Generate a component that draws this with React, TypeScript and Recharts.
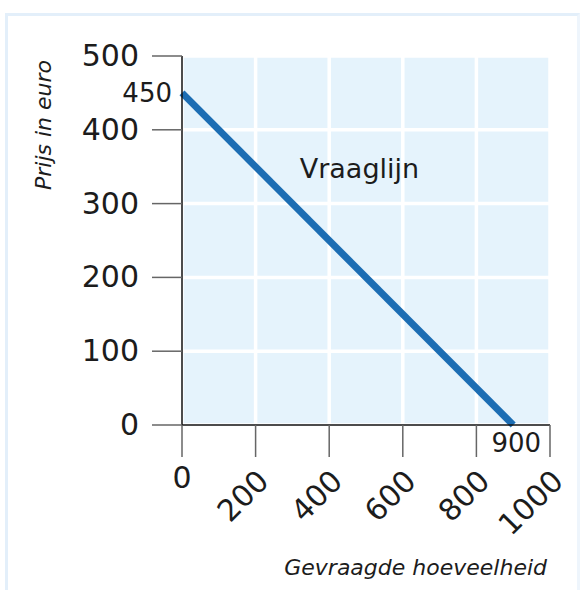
import { LineChart, Line, XAxis, YAxis, CartesianGrid, ReferenceDot, Label } from 'recharts';

// vraaglijn: hoeveelheid -> prijs
const QUANTITY = [0, 900];
const PRICE = [450, 0];
const X_TICKS = [0, 200, 400, 600, 800, 1000];
const Y_TICKS = [0, 100, 200, 300, 400, 500];
const LINE_NAME = 'Vraaglijn';
const LINE_NAME_AT = [320, 335];
const X_TITLE = 'Gevraagde hoeveelheid';
const Y_TITLE = 'Prijs in euro';

const data = QUANTITY.map((q, i) => ({ q, p: PRICE[i] }));

const FONT = '"DejaVu Sans", sans-serif';
const INK = '#1c1c1c';

function XTick(props: any) {
  const { x, y, payload } = props;
  if (payload.value === 0) {
    return (
      <text x={x} y={y + 29} textAnchor="middle" fontFamily={FONT} fontSize={30} fill={INK}>
        {payload.value}
      </text>
    );
  }
  const ax = x + 15;
  const ay = y + 24;
  return (
    <text
      x={ax}
      y={ay}
      textAnchor="end"
      transform={`rotate(-45 ${ax} ${ay})`}
      fontFamily={FONT}
      fontSize={30}
      fill={INK}
    >
      {payload.value}
    </text>
  );
}

function YTick(props: any) {
  const { x, y, payload } = props;
  return (
    <text x={x - 11} y={y + 10} textAnchor="end" fontFamily={FONT} fontSize={30} fill={INK}>
      {payload.value}
    </text>
  );
}

export default function App() {
  return (
    <div style={{ position: 'absolute', left: 0, top: 0, width: 585, height: 590, background: '#fff', overflow: 'hidden' }}>
      <div
        style={{
          position: 'absolute',
          left: 5,
          top: 13,
          width: 569,
          height: 600,
          borderLeft: '3px solid #e3effa',
          borderTop: '3px solid #e3effa',
          borderRight: '3px solid #eef5fc',
        }}
      />
      <div style={{ position: 'absolute', left: 0, top: 0 }}>
        <LineChart width={585} height={590} data={data} margin={{ top: 56, right: 35, bottom: 0, left: 0 }}>
          <CartesianGrid fill="#e5f3fc" stroke="#ffffff" strokeWidth={3.5} />
          <XAxis
            dataKey="q"
            type="number"
            domain={[0, 1000]}
            ticks={X_TICKS}
            height={165}
            tickSize={32}
            tick={<XTick />}
            axisLine={{ stroke: '#111', strokeWidth: 1.5 }}
            tickLine={{ stroke: '#666', strokeWidth: 1.5 }}
          >
            <Label
              content={(p: any) => {
                const vb = p.viewBox;
                return (
                  <text
                    x={547}
                    y={vb.y + 150}
                    textAnchor="end"
                    fontFamily={FONT}
                    fontStyle="italic"
                    fontSize={22}
                    fill={INK}
                  >
                    {X_TITLE}
                  </text>
                );
              }}
            />
          </XAxis>
          <YAxis
            type="number"
            domain={[0, 500]}
            ticks={Y_TICKS}
            width={182}
            tickSize={30}
            tick={<YTick />}
            axisLine={{ stroke: '#111', strokeWidth: 1.5 }}
            tickLine={{ stroke: '#666', strokeWidth: 1.5 }}
          >
            <Label
              content={() => (
                <text
                  x={51}
                  y={125}
                  textAnchor="middle"
                  transform="rotate(-90 51 125)"
                  fontFamily={FONT}
                  fontStyle="italic"
                  fontSize={22}
                  fill={INK}
                >
                  {Y_TITLE}
                </text>
              )}
            />
          </YAxis>
          <Line
            dataKey="p"
            stroke="#1c6db3"
            strokeWidth={7}
            dot={false}
            activeDot={false}
            isAnimationActive={false}
          />
          <ReferenceDot
            x={QUANTITY[0]}
            y={PRICE[0]}
            r={0}
            fill="none"
            stroke="none"
            label={{
              content: (p: any) => (
                <text x={p.viewBox.x - 10} y={p.viewBox.y + 9} textAnchor="end" fontFamily={FONT} fontSize={26} fill={INK}>
                  {PRICE[0]}
                </text>
              ),
            }}
          />
          <ReferenceDot
            x={QUANTITY[1]}
            y={PRICE[1]}
            r={0}
            fill="none"
            stroke="none"
            label={{
              content: (p: any) => (
                <text x={p.viewBox.x + 3} y={p.viewBox.y + 27} textAnchor="middle" fontFamily={FONT} fontSize={26} fill={INK}>
                  {QUANTITY[1]}
                </text>
              ),
            }}
          />
          <ReferenceDot
            x={LINE_NAME_AT[0]}
            y={LINE_NAME_AT[1]}
            r={0}
            fill="none"
            stroke="none"
            label={{
              content: (p: any) => (
                <text x={p.viewBox.x} y={p.viewBox.y} textAnchor="start" fontFamily={FONT} fontSize={27} fill={INK}>
                  {LINE_NAME}
                </text>
              ),
            }}
          />
        </LineChart>
      </div>
    </div>
  );
}
